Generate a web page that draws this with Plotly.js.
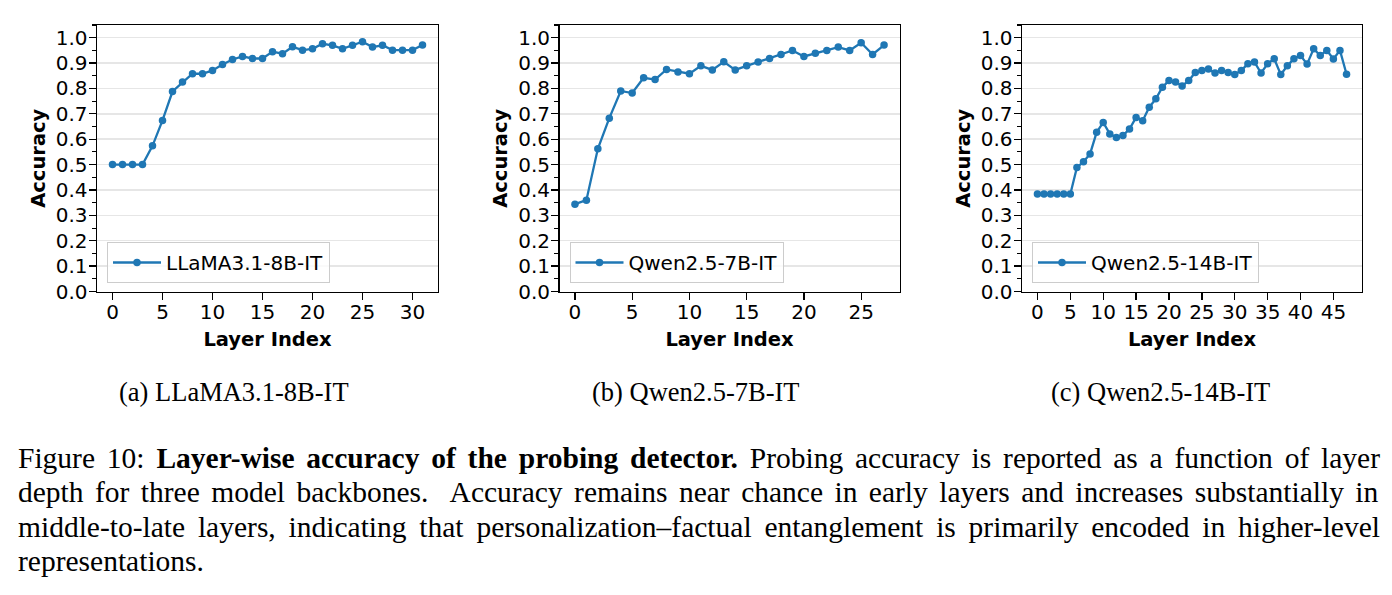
<!DOCTYPE html>
<html><head><meta charset="utf-8">
<script src="https://cdn.plot.ly/plotly-3.0.1.min.js"></script>
<style>html,body{margin:0;padding:0;background:#fff}#chart{width:1392px;height:595px}</style>
</head><body><div id="chart"></div>
<script>
// ---------- data ----------
const layersLlama = [0,1,2,3,4,5,6,7,8,9,10,11,12,13,14,15,16,17,18,19,20,21,22,23,24,25,26,27,28,29,30,31];
const accLlama = [0.500,0.500,0.500,0.500,0.574,0.674,0.788,0.825,0.858,0.858,0.871,0.894,0.914,0.926,0.918,0.918,0.945,0.937,0.964,0.951,0.956,0.976,0.970,0.956,0.970,0.984,0.963,0.970,0.951,0.951,0.951,0.971];

const layersQwen7 = [0,1,2,3,4,5,6,7,8,9,10,11,12,13,14,15,16,17,18,19,20,21,22,23,24,25,26,27];
const accQwen7 = [0.344,0.360,0.562,0.683,0.790,0.782,0.842,0.835,0.875,0.865,0.858,0.889,0.873,0.905,0.873,0.889,0.904,0.918,0.934,0.950,0.926,0.939,0.950,0.963,0.950,0.980,0.934,0.971];

const layersQwen14 = [0,1,2,3,4,5,6,7,8,9,10,11,12,13,14,15,16,17,18,19,20,21,22,23,24,25,26,27,28,29,30,31,32,33,34,35,36,37,38,39,40,41,42,43,44,45,46,47];
const accQwen14 = [0.384,0.384,0.384,0.384,0.384,0.384,0.489,0.511,0.542,0.627,0.666,0.621,0.607,0.615,0.640,0.686,0.673,0.726,0.759,0.805,0.831,0.825,0.810,0.831,0.863,0.871,0.877,0.861,0.871,0.863,0.855,0.871,0.897,0.904,0.861,0.897,0.917,0.855,0.889,0.917,0.930,0.896,0.956,0.930,0.950,0.916,0.950,0.856];

const xTicksLlama = [0,5,10,15,20,25,30];
const xTicksQwen7 = [0,5,10,15,20,25];
const xTicksQwen14 = [0,5,10,15,20,25,30,35,40,45];
const yTickVals = [0.0,0.1,0.2,0.3,0.4,0.5,0.6,0.7,0.8,0.9,1.0];
const yTickText = ['0.0','0.1','0.2','0.3','0.4','0.5','0.6','0.7','0.8','0.9','1.0'];

const seriesNames = ['LLaMA3.1-8B-IT','Qwen2.5-7B-IT','Qwen2.5-14B-IT'];
const subCaptions = ['(a) LLaMA3.1-8B-IT','(b) Qwen2.5-7B-IT','(c) Qwen2.5-14B-IT'];
const xTitle = 'Layer Index';
const yTitle = 'Accuracy';
const captionLines = [
  [['Figure 10: ',false],['Layer-wise accuracy of the probing detector.',true],[' Probing accuracy is reported as a function of layer',false]],
  [['depth for three model backbones.  Accuracy remains near chance in early layers and increases substantially in',false]],
  [['middle-to-late layers, indicating that personalization\u2013factual entanglement is primarily encoded in higher-level',false]],
  [['representations.',false]]
];

// ---------- layout helpers ----------
const W = 1392, H = 595;
const px = p => p / W;
const py = p => 1 - p / H;
const BLUE = '#1f77b4';
const SANS = 'DejaVu Sans';
const SERIF = 'Liberation Serif';

const panels = [
  {x: layersLlama, y: accLlama, ticks: xTicksLlama, dom: [97, 438], n: 31},
  {x: layersQwen7, y: accQwen7, ticks: xTicksQwen7, dom: [559.5, 899.5], n: 27},
  {x: layersQwen14, y: accQwen14, ticks: xTicksQwen14, dom: [1022, 1362], n: 47}
];
const subCapX = [234, 696, 1160];

const data = [];
const layout = {
  width: W, height: H,
  margin: {l: 0, r: 0, t: 0, b: 0},
  paper_bgcolor: '#fff', plot_bgcolor: '#fff',
  showlegend: true,
  annotations: []
};

panels.forEach((p, i) => {
  const s = i === 0 ? '' : String(i + 1);
  const legendId = 'legend' + s;
  data.push({
    type: 'scatter', mode: 'lines+markers',
    x: p.x, y: p.y, name: seriesNames[i],
    xaxis: 'x' + s, yaxis: 'y' + s,
    legend: legendId,
    line: {color: BLUE, width: 2.3},
    marker: {color: BLUE, size: 7.5}
  });
  const pad = 0.05 * p.n;
  layout['xaxis' + s] = {
    domain: [px(p.dom[0]), px(p.dom[1])],
    anchor: 'y' + s,
    range: [-pad, p.n + pad],
    tickmode: 'array', tickvals: p.ticks, ticktext: p.ticks.map(String),
    ticks: 'outside', ticklen: 7, tickwidth: 1.3, tickcolor: '#000',
    ticklabelstandoff: -5,
    showline: true, linecolor: '#000', linewidth: 1.4, mirror: true,
    showgrid: false, zeroline: false,
    tickfont: {family: SANS, size: 20, color: '#000'},
    title: {text: xTitle, standoff: 9, font: {family: SANS, size: 19.5, color: '#000', weight: 'bold'}}
  };
  layout['yaxis' + s] = {
    domain: [py(291.5), py(25)],
    anchor: 'x' + s,
    range: [0, 1.05],
    tickmode: 'array', tickvals: yTickVals, ticktext: yTickText,
    ticks: 'outside', ticklen: 7, tickwidth: 1.3, tickcolor: '#000',
    ticklabelstandoff: -3,
    minor: {tickmode: 'linear', tick0: 0, dtick: 0.05, ticks: 'outside', ticklen: 4, tickwidth: 1.1, tickcolor: '#000', showgrid: false},
    showline: true, linecolor: '#000', linewidth: 1.4, mirror: true,
    showgrid: true, gridcolor: '#e6e6e6', gridwidth: 1.5, zeroline: false,
    tickfont: {family: SANS, size: 20, color: '#000'},
    title: {text: yTitle, standoff: 5, font: {family: SANS, size: 19.5, color: '#000', weight: 'bold'}}
  };
  layout[legendId] = {
    x: px(p.dom[0] + 10), xanchor: 'left',
    y: py(283), yanchor: 'bottom',
    bgcolor: 'rgba(255,255,255,0.8)', bordercolor: '#cccccc', borderwidth: 1,
    font: {family: SANS, size: 20, color: '#000'},
    itemwidth: 48
  };
  layout.annotations.push({
    xref: 'paper', yref: 'paper', x: px(subCapX[i]), y: py(392),
    xanchor: 'center', yanchor: 'middle', showarrow: false, borderpad: 0,
    text: subCaptions[i], font: {family: SERIF, size: 26.5, color: '#000'}
  });
});

// ---------- caption (justified lines) ----------
const CAP_SIZE = 29.5, CAP_LEFT = 17, CAP_RIGHT = 1379;
const capCenters = [457.5, 492, 526.5, 561];
const ctx = document.createElement('canvas').getContext('2d');
function measure(t, bold) {
  ctx.font = (bold ? 'bold ' : '') + CAP_SIZE + 'px "' + SERIF + '"';
  return ctx.measureText(t).width;
}
captionLines.forEach((segs, li) => {
  let natural = 0, spaces = 0, html = '';
  segs.forEach(([t, b]) => {
    natural += measure(t, b);
    spaces += (t.match(/ /g) || []).length;
    html += b ? '<b>' + t + '</b>' : t;
  });
  const justify = li < captionLines.length - 1;
  const ws = justify && spaces ? (CAP_RIGHT - CAP_LEFT - natural) / spaces : 0;
  layout.annotations.push({
    xref: 'paper', yref: 'paper', x: px(CAP_LEFT), y: py(capCenters[li]),
    xanchor: 'left', yanchor: 'middle', showarrow: false, borderpad: 0, align: 'left',
    text: '<span style="word-spacing:' + ws.toFixed(2) + 'px">' + html + '</span>',
    font: {family: SERIF, size: CAP_SIZE, color: '#000'}
  });
});

Plotly.newPlot('chart', data, layout, {staticPlot: true, displayModeBar: false});
</script>
</body></html>
